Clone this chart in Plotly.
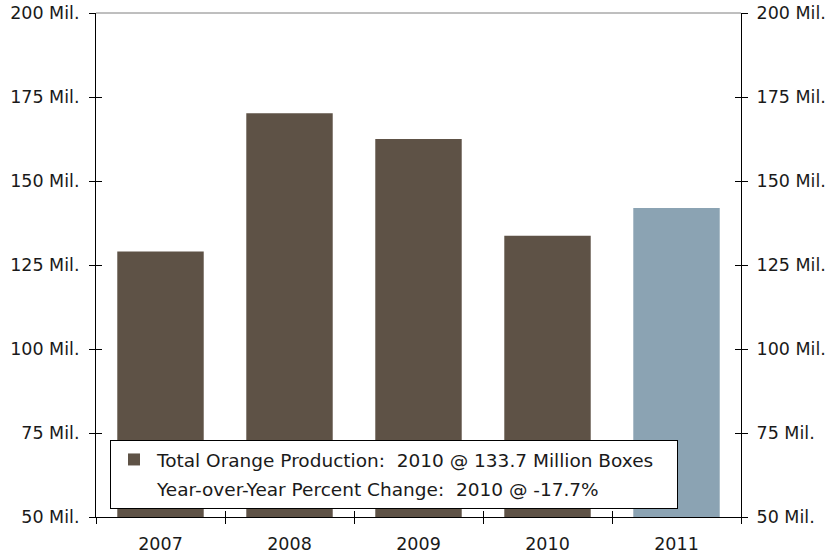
import plotly.graph_objects as go

years = ["2007", "2008", "2009", "2010", "2011"]
actual_years = ["2007", "2008", "2009", "2010"]
actual_values = [129.0, 170.2, 162.5, 133.7]
forecast_years = ["2011"]
forecast_values = [142.0]
y_ticks = [50, 75, 100, 125, 150, 175, 200]
y_tick_text = ["%d Mil." % v for v in y_ticks]
legend_names = ["Total Orange Production:\u00a0 2010 @ 133.7 Million Boxes",
                "Year-over-Year Percent Change:\u00a0 2010 @ -17.7%"]

BROWN = "#5e5246"
BLUE = "#8ba3b3"
FONT = "DejaVu Sans"
TXT = "#1a1a1a"
FS = 17.5
PAD = "\u00a0" * 3

fig = go.Figure()
fig.add_trace(go.Bar(x=actual_years, y=actual_values, marker_color=BROWN,
                     marker_line_width=0, width=0.67,
                     name=legend_names[0] + PAD,
                     legendgroup="a", hoverinfo="x+y"))
fig.add_trace(go.Bar(x=forecast_years, y=forecast_values, marker_color=BLUE,
                     marker_line_width=0, width=0.67, showlegend=False,
                     legendgroup="c", hoverinfo="x+y"))
fig.add_trace(go.Scatter(x=[None], y=[None], mode="markers",
                         marker=dict(color="rgba(0,0,0,0)", size=1),
                         name=legend_names[1],
                         legendgroup="b"))
# invisible helper traces so overlay axes draw their inside ticks
fig.add_trace(go.Bar(x=years, y=actual_values + forecast_values, xaxis="x2", yaxis="y3",
                     opacity=0, showlegend=False, hoverinfo="skip"))
fig.add_trace(go.Bar(x=years, y=actual_values + forecast_values, xaxis="x2", yaxis="y4",
                     opacity=0, showlegend=False, hoverinfo="skip"))
fig.add_trace(go.Bar(x=years, y=actual_values + forecast_values, xaxis="x", yaxis="y2",
                     opacity=0, showlegend=False, hoverinfo="skip"))

yax = dict(range=[50, 200], tickvals=y_ticks, showgrid=False, zeroline=False,
           showline=True, linecolor="#000", linewidth=1, ticklen=6, tickcolor="#000",
           tickwidth=1, automargin=False, tickfont=dict(size=FS))
fig.update_layout(
    width=827, height=558,
    margin=dict(l=96, r=86, t=13, b=41, autoexpand=False),
    paper_bgcolor="white", plot_bgcolor="white",
    font=dict(family=FONT, size=FS, color=TXT),
    barmode="overlay",
    xaxis=dict(type="category", categoryarray=years, range=[-0.5, 4.5],
               showline=True, linecolor="#000", linewidth=1, ticks="outside",
               tickson="boundaries", ticklen=6, tickcolor="#000", tickwidth=1,
               showgrid=False, ticklabelstandoff=11, tickfont=dict(size=FS),
               automargin=False),
    xaxis2=dict(type="category", categoryarray=years, range=[-0.5, 4.5],
                overlaying="x", side="bottom", ticks="inside", tickson="boundaries",
                ticklen=6, tickcolor="#000", showticklabels=False, showgrid=False,
                showline=False, automargin=False),
    yaxis=dict(yax, ticks="outside", ticktext=y_tick_text, side="left",
               ticklabelstandoff=6),
    yaxis2=dict(yax, ticks="outside", ticktext=y_tick_text, side="right",
                overlaying="y", ticklabelstandoff=5),
    yaxis3=dict(yax, ticks="inside", showticklabels=False, side="left",
                overlaying="y", anchor="x2"),
    yaxis4=dict(yax, ticks="inside", showticklabels=False, side="right",
                overlaying="y", anchor="x2"),
    legend=dict(x=0.0217, y=0.016, xanchor="left", yanchor="bottom",
                bgcolor="white", bordercolor="#000", borderwidth=1,
                traceorder="grouped", tracegroupgap=2, itemwidth=36,
                font=dict(size=18.5, color=TXT)),
    annotations=[dict(x="2011", y=160.5, text="Forecast", showarrow=False,
                      xshift=-7, font=dict(size=FS, color=TXT))],
    shapes=[dict(type="line", xref="paper", yref="paper", x0=0, x1=1, y0=1, y1=1,
                 line=dict(color="#7f7f7f", width=1))],
)
fig.write_html("out.html", config={"displayModeBar": False},
               post_script="document.body.style.margin='0';document.body.style.overflow='hidden';")
